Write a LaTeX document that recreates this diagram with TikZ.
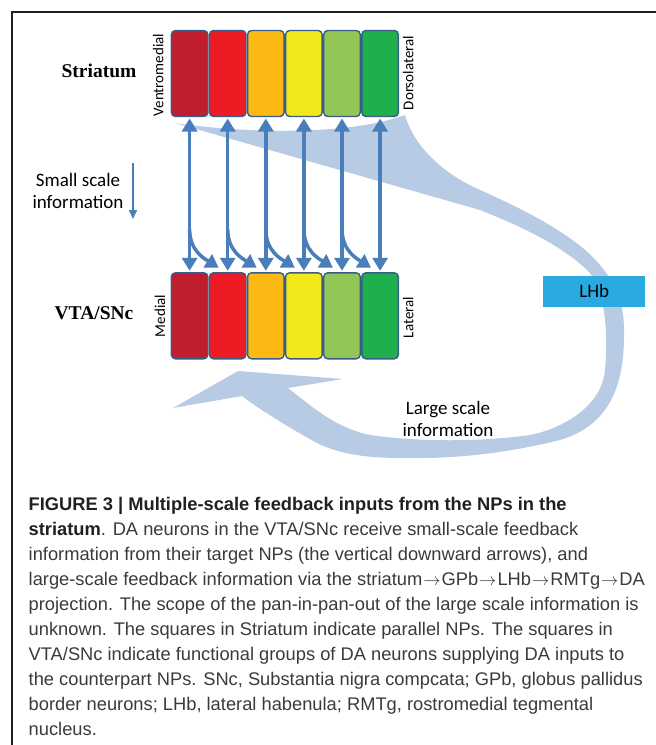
\documentclass[tikz,border=0pt]{standalone}
\usepackage{fontspec}
\usetikzlibrary{positioning,arrows.meta,calc}
\newfontfamily\calibfont{Carlito}
\newfontfamily\timesfont{Liberation Serif}
\newfontfamily\capfont{Liberation Sans}
\newcommand\caparrow{\kern1pt$\rightarrow$\kern1pt}
\definecolor{npdarkred}{HTML}{BE1E2D}
\definecolor{npred}{HTML}{ED1C24}
\definecolor{nporange}{HTML}{FCB813}
\definecolor{npyellow}{HTML}{F2E81A}
\definecolor{nplightgreen}{HTML}{92C657}
\definecolor{npgreen}{HTML}{1FAF4B}
\definecolor{npborder}{HTML}{385D8A}
\definecolor{smallblue}{HTML}{4A7EBB}
\definecolor{largeblue}{HTML}{B7CCE4}
\definecolor{lhbcyan}{HTML}{29ABE2}
\definecolor{captext}{HTML}{3A3A3A}
\definecolor{framegray}{HTML}{231F20}

\begin{document}
\begin{tikzpicture}[x=1pt,y=-1pt,
	npbox/.style={draw=npborder,line width=1.4pt,rounded corners=4pt,minimum width=36.5pt,minimum height=86pt,inner sep=0pt,outer sep=0pt},
	sidelabel/.style={font=\calibfont\fontsize{15}{16}\selectfont,rotate=90,inner sep=0pt},
	arealabel/.style={font=\timesfont\bfseries\fontsize{19.5}{22}\selectfont,inner sep=0pt,anchor=base},
	infolabel/.style={font=\calibfont\fontsize{19}{22.5}\selectfont,align=center,inner sep=0pt},
	dblarrow/.style={smallblue,line width=3.5pt,{Triangle[width=15pt,length=13pt]}-{Triangle[width=15pt,length=13pt]},shorten <=2pt,shorten >=2pt},
	bendarrow/.style={smallblue,line width=3.5pt,-{Triangle[width=15pt,length=13pt]}},
	thinarrow/.style={smallblue,line width=2pt,-{Triangle[width=8pt,length=9pt]}}]
	\useasboundingbox (0,0) rectangle (656,745);
	\draw[framegray,line width=2pt] (11.7,745) -- (11.7,11.7) -- (656,11.7);
	\fill[largeblue] (175,123) .. controls (250,134) and (350,135) .. (405,115)
		.. controls (412,140) and (435,170) .. (480,190)
		.. controls (530,212) and (578,238) .. (600,265)
		.. controls (615,283) and (624,300) .. (624,330)
		.. controls (625,385) and (610,425) .. (560,440)
		.. controls (520,450) and (470,458) .. (420,458)
		.. controls (370,459) and (340,455) .. (315,442)
		.. controls (290,428) and (260,410) .. (242,396)
		-- (173,408) -- (238,371) -- (343,379) -- (288,388)
		.. controls (310,405) and (335,428) .. (370,435)
		.. controls (420,442) and (480,442) .. (530,435)
		.. controls (565,428) and (602,405) .. (605,370)
		.. controls (608,335) and (606,295) .. (590,273)
		.. controls (565,248) and (530,230) .. (480,210)
		-- cycle;
	\node[npbox,fill=npdarkred] (st1) at (189.6,73.5) {};
	\node[npbox,fill=npred,right=1.6pt of st1] (st2) {};
	\node[npbox,fill=nporange,right=1.6pt of st2] (st3) {};
	\node[npbox,fill=npyellow,right=1.6pt of st3] (st4) {};
	\node[npbox,fill=nplightgreen,right=1.6pt of st4] (st5) {};
	\node[npbox,fill=npgreen,right=1.6pt of st5] (st6) {};
	\node[npbox,fill=npdarkred] (vt1) at (189.6,315.8) {};
	\node[npbox,fill=npred,right=1.6pt of vt1] (vt2) {};
	\node[npbox,fill=nporange,right=1.6pt of vt2] (vt3) {};
	\node[npbox,fill=npyellow,right=1.6pt of vt3] (vt4) {};
	\node[npbox,fill=nplightgreen,right=1.6pt of vt4] (vt5) {};
	\node[npbox,fill=npgreen,right=1.6pt of vt5] (vt6) {};
	\node[sidelabel] (ventro) at (158.3,75) {Ventromedial};
	\node[sidelabel] (dorso) at (408.3,73) {Dorsolateral};
	\node[sidelabel] (medial) at (160,316) {Medial};
	\node[sidelabel] (lateral) at (408.3,317.5) {Lateral};
	\node[arealabel] (striatum) at (99,77.5) {Striatum};
	\node[arealabel] (vtasnc) at (94,319) {VTA/SNc};
	\draw[dblarrow] (st1.south) -- (vt1.north);
	\draw[dblarrow] (st2.south) -- (vt2.north);
	\draw[dblarrow] (st3.south) -- (vt3.north);
	\draw[dblarrow] (st4.south) -- (vt4.north);
	\draw[dblarrow] (st5.south) -- (vt5.north);
	\draw[dblarrow] (st6.south) -- (vt6.north);
	\coordinate (b1) at ($(st1.south)!0.72!(vt1.north)$);
	\coordinate (b2) at ($(st2.south)!0.72!(vt2.north)$);
	\coordinate (b3) at ($(st3.south)!0.72!(vt3.north)$);
	\coordinate (b4) at ($(st4.south)!0.72!(vt4.north)$);
	\coordinate (b5) at ($(st5.south)!0.72!(vt5.north)$);
	\draw[bendarrow] (b1) .. controls +(0,22) and +(-14,-9) .. ([xshift=-9pt,yshift=5pt]vt2.north);
	\draw[bendarrow] (b2) .. controls +(0,22) and +(-14,-9) .. ([xshift=-9pt,yshift=5pt]vt3.north);
	\draw[bendarrow] (b3) .. controls +(0,22) and +(-14,-9) .. ([xshift=-9pt,yshift=5pt]vt4.north);
	\draw[bendarrow] (b4) .. controls +(0,22) and +(-14,-9) .. ([xshift=-9pt,yshift=5pt]vt5.north);
	\draw[bendarrow] (b5) .. controls +(0,22) and +(-14,-9) .. ([xshift=-9pt,yshift=5pt]vt6.north);
	\node[infolabel] (small) at (78,191) {Small scale\\information};
	\coordinate (sa) at (133,163);
	\coordinate (sb) at (133,219);
	\draw[thinarrow] (sa) -- (sb);
	\node[fill=lhbcyan,minimum width=101.7pt,minimum height=30.7pt,inner sep=0pt,font=\calibfont\fontsize{19}{22}\selectfont] (lhb) at (594.2,291.3) {LHb};
	\node[infolabel] (large) at (448,419) {Large scale\\information};
	\node[anchor=north west,align=left,inner sep=0pt,text=captext,font=\capfont\fontsize{18.3}{25}\selectfont] (caption) at (28.5,497) {%
		{\color{framegray}\bfseries FIGURE 3 | Multiple-scale feedback inputs from the NPs in the}\\
		{\color{framegray}\bfseries striatum}. DA neurons in the VTA/SNc receive small-scale feedback\\
		information from their target NPs (the vertical downward arrows), and\\
		large-scale feedback information via the striatum\caparrow GPb\caparrow LHb\caparrow RMTg\caparrow DA\\
		projection. The scope of the pan-in-pan-out of the large scale information is\\
		unknown. The squares in Striatum indicate parallel NPs. The squares in\\
		VTA/SNc indicate functional groups of DA neurons supplying DA inputs to\\
		the counterpart NPs. SNc, Substantia nigra compcata; GPb, globus pallidus\\
		border neurons; LHb, lateral habenula; RMTg, rostromedial tegmental\\
		nucleus.};
\end{tikzpicture}
\end{document}
